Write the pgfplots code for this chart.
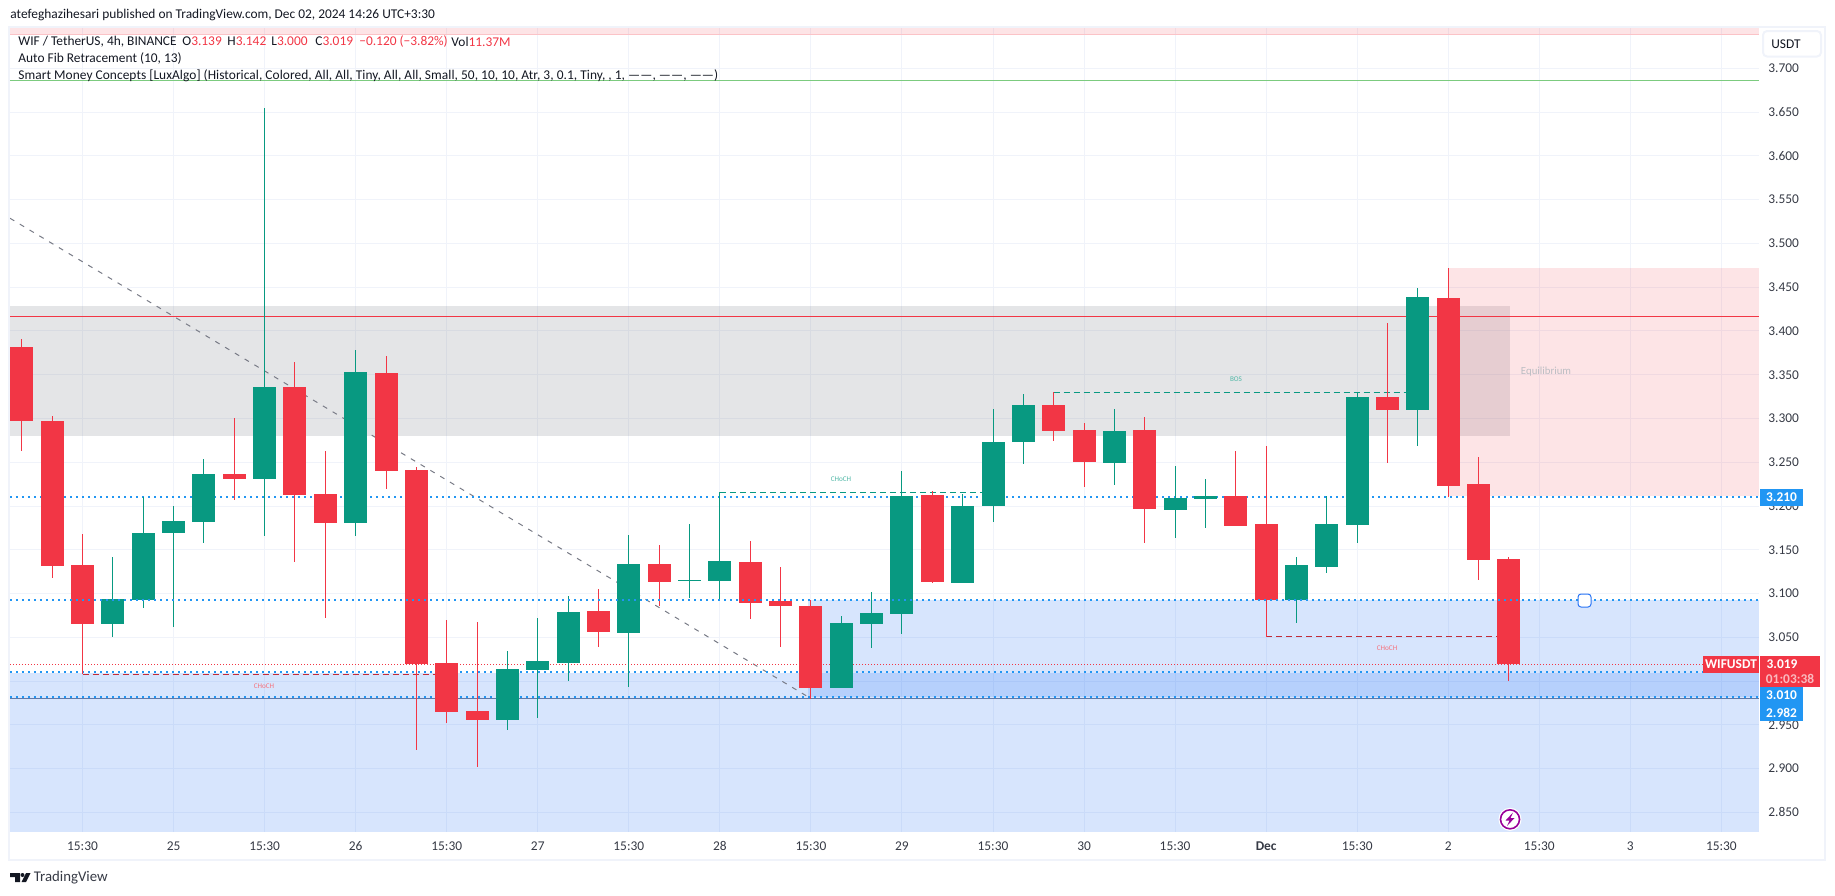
\documentclass[border=0pt]{standalone}
\usepackage{fontspec}
\setmainfont{Carlito}
\usepackage{pgfplots}
\usepackage{pgfplotstable}
\pgfplotsset{compat=1.18}

\definecolor{tvup}{HTML}{089981}
\definecolor{tvdown}{HTML}{F23645}
\definecolor{tvblue}{HTML}{2196F3}
\definecolor{tvzone}{HTML}{2A75F5}
\definecolor{tvgray}{HTML}{787B86}
\definecolor{tvgrid}{HTML}{F0F3FA}
\definecolor{tvtext}{HTML}{131722}
\definecolor{tvlabel}{HTML}{363A45}
\definecolor{tvlime}{HTML}{7CCB7F}

% 1 px of the reference = 0.5pt
\newcommand{\tv}{\fontsize{6.7}{8}\selectfont}

% candles: index, open, high, low, close
\pgfplotstableread{
i  o      h      l      c
3  3.0652 3.1417 3.0503 3.0934
4  3.0926 3.2107 3.0835 3.1692
5  3.1692 3.2000 3.0617 3.1829
6  3.1817 3.2537 3.1577 3.2366
8  3.2309 3.6547 3.1657 3.3359
11 3.1806 3.3782 3.1657 3.3531
16 2.9555 3.0343 2.9440 3.0138
17 3.0126 3.0720 2.9578 3.0229
18 3.0206 3.0972 3.0000 3.0789
20 3.0549 3.1669 2.9932 3.1337
22 3.1143 3.1794 3.0949 3.1155
23 3.1143 3.2156 3.0926 3.1372
27 2.9920 3.0743 2.9915 3.0663
28 3.0651 3.1017 3.0377 3.0777
29 3.0766 3.2400 3.0537 3.2114
31 3.1120 3.2137 3.1115 3.2000
32 3.2000 3.3108 3.1817 3.2731
33 3.2731 3.3279 3.2480 3.3154
36 3.2491 3.3108 3.2240 3.2857
38 3.1954 3.2457 3.1634 3.2091
39 3.2079 3.2308 3.1748 3.2114
42 3.0926 3.1417 3.0663 3.1326
43 3.1303 3.2114 3.1234 3.1794
44 3.1783 3.3298 3.1577 3.3245
46 3.3097 3.4491 3.2685 3.4388
}\upcandles
\pgfplotstableread{
i  o      h      l      c
0  3.3820 3.3910 3.2630 3.2970
1  3.2970 3.3030 3.1180 3.1314
2  3.1326 3.1680 3.0077 3.0652
7  3.2366 3.3005 3.2069 3.2309
9  3.3359 3.3645 3.1360 3.2126
10 3.2137 3.2628 3.0720 3.1806
12 3.3520 3.3713 3.2194 3.2400
13 3.2411 3.2446 2.9212 3.0195
14 3.0206 3.0697 2.9520 2.9646
15 2.9658 3.0675 2.9018 2.9555
19 3.0800 3.1052 3.0389 3.0560
21 3.1337 3.1554 3.0857 3.1132
24 3.1360 3.1600 3.0709 3.0892
25 3.0915 3.1303 3.0389 3.0857
26 3.0857 3.0926 2.9800 2.9920
30 3.2125 3.2167 3.1120 3.1131
34 3.3154 3.3298 3.2742 3.2857
35 3.2868 3.2948 3.2217 3.2502
37 3.2868 3.3017 3.1577 3.1965
40 3.2114 3.2628 3.1771 3.1771
41 3.1794 3.2685 3.0507 3.0926
45 3.3245 3.4091 3.2491 3.3097
47 3.4376 3.4719 3.2103 3.2228
48 3.2251 3.2560 3.1154 3.1383
49 3.1390 3.1420 3.0000 3.0190
}\downcandles

\pgfplotsset{
  wick/.style={draw=none, no markers, forget plot,
    error bars/.cd, y dir=both, y explicit, error mark=none,
    error bar style={draw=#1, line width=0.5pt}},
  body/.style={draw=none, no markers, forget plot,
    error bars/.cd, y dir=both, y explicit, error mark=none,
    error bar style={draw=#1, line width=11.5pt}},
  zone/.style={draw=none, fill=#1, forget plot},
  dots/.style={tvblue, line width=1pt, dash pattern=on 1pt off 2pt, forget plot},
}

\begin{document}
\begin{tikzpicture}
\path[use as bounding box] (0,0) rectangle (917.5pt,-447.5pt);
\begin{axis}[
    at={(5pt,-416pt)}, anchor=south west,
    scale only axis, width=874.5pt, height=402.5pt,
    xmin=-0.39, xmax=57.24,
    ymin=2.8275, ymax=3.7473,
    xtick={2,5,...,56},
    xticklabels={15:30,25,15:30,26,15:30,27,15:30,28,15:30,29,15:30,30,15:30,\textbf{Dec},15:30,2,15:30,3,15:30},
    ytick={2.85,2.9,...,3.71},
    yticklabel pos=right,
    y tick label style={/pgf/number format/fixed, /pgf/number format/fixed zerofill, /pgf/number format/precision=3, /pgf/number format/assume math mode=true,
      font=\tv, text=tvlabel, inner sep=0pt, anchor=west, xshift=4.5pt},
    x tick label style={font=\tv, text=tvlabel, inner sep=0pt, anchor=center, yshift=-7pt},
    major tick length=0pt,
    grid=major, major grid style={draw=tvgrid, line width=0.5pt},
    axis line style={draw=none},
]
% zones
\addplot[zone=tvdown, fill opacity=.135] coordinates {(-0.39,3.7387) (57.24,3.7387) (57.24,3.7473) (-0.39,3.7473)} -- cycle;
\addplot[tvdown!30, line width=0.5pt, forget plot] coordinates {(-0.39,3.7387) (57.24,3.7387)};
\addplot[zone=tvgray, fill opacity=.2] coordinates {(-0.39,3.2799) (49.02,3.2799) (49.02,3.4285) (-0.39,3.4285)} -- cycle;
\addplot[zone=tvdown, fill opacity=.135] coordinates {(47,3.2110) (57.24,3.2110) (57.24,3.4719) (47,3.4719)} -- cycle;
\addplot[zone=tvzone, fill opacity=.19] coordinates {(-0.39,2.8275) (57.24,2.8275) (57.24,3.0088) (-0.39,3.0088)} -- cycle;
\addplot[zone=tvzone, fill opacity=.19] coordinates {(25.9,2.9814) (57.24,2.9814) (57.24,3.0926) (25.9,3.0926)} -- cycle;
\addplot[tvgray!70!tvzone, line width=0.5pt, forget plot] coordinates {(-0.39,2.9802) (57.24,2.9802)};
% level lines
\addplot[tvlime, line width=0.5pt, forget plot] coordinates {(-0.39,3.6864) (57.24,3.6864)};
\addplot[tvdown, line width=0.5pt, forget plot] coordinates {(-0.39,3.4168) (57.24,3.4168)};
\addplot[tvgray, line width=0.5pt, dash pattern=on 2.5pt off 3.2pt, forget plot] coordinates {(-0.39,3.5288) (26,2.98)};
\addplot[dots] coordinates {(-0.39,3.210) (57.24,3.210)};
\addplot[dots] coordinates {(-0.39,3.0103) (57.24,3.0103)};
\addplot[dots] coordinates {(-0.39,2.9814) (57.24,2.9814)};
\addplot[tvdown, line width=0.5pt, dash pattern=on .5pt off 1pt, forget plot] coordinates {(-0.39,3.0191) (57.24,3.0191)};
% structure breaks
\addplot[tvdown!80!black, line width=0.5pt, dash pattern=on 3pt off 2pt, forget plot] coordinates {(2,3.0077) (14,3.0077)};
\addplot[tvup, line width=0.5pt, dash pattern=on 3pt off 2pt, forget plot] coordinates {(23,3.2156) (32,3.2156)};
\addplot[tvup, line width=0.5pt, dash pattern=on 3pt off 2pt, forget plot] coordinates {(34,3.3298) (46,3.3298)};
\addplot[tvdown!80!black, line width=0.5pt, dash pattern=on 3pt off 2pt, forget plot] coordinates {(41,3.0507) (49,3.0507)};
% candles
\addplot[wick=tvup] table[x=i, y expr={(\thisrow{h}+\thisrow{l})/2}, y error expr={(\thisrow{h}-\thisrow{l})/2}] {\upcandles};
\addplot[body=tvup] table[x=i, y expr={(\thisrow{o}+\thisrow{c})/2}, y error expr={abs(\thisrow{c}-\thisrow{o})/2}] {\upcandles};
\addplot[wick=tvdown] table[x=i, y expr={(\thisrow{h}+\thisrow{l})/2}, y error expr={(\thisrow{h}-\thisrow{l})/2}] {\downcandles};
\addplot[body=tvdown] table[x=i, y expr={(\thisrow{o}+\thisrow{c})/2}, y error expr={abs(\thisrow{c}-\thisrow{o})/2}] {\downcandles};
\addplot[dots] coordinates {(-0.39,3.0926) (57.24,3.0926)};
\end{axis}

% everything below is placed in reference pixels, origin top left
\begin{scope}[x=0.5pt,y=-0.5pt, every node/.style={font=\tv, inner sep=0pt, anchor=west}]
\draw[tvgrid, line width=1pt] (9,26.5) rectangle (1825,859.5);
\node[text=tvtext] at (10,15.3) {atefeghazihesari published on TradingView.com, Dec 02, 2024 14:26 UTC+3:30};
\node[text=tvtext] at (18,41.7) {WIF / TetherUS, 4h, BINANCE};
\node[text=tvtext] at (182,41.7) {O\textcolor{tvdown}{3.139}};
\node[text=tvtext] at (227,41.7) {H\textcolor{tvdown}{3.142}};
\node[text=tvtext] at (271,41.7) {L\textcolor{tvdown}{3.000}};
\node[text=tvtext] at (315,41.7) {C\textcolor{tvdown}{3.019}};
\node[text=tvdown] at (359,41.7) {−0.120 (−3.82\%)};
\node[text=tvtext] at (451,41.7) {Vol\textcolor{tvdown}{11.37M}};
\node[text=tvtext] at (18,59) {Auto Fib Retracement (10, 13)};
\node[text=tvtext] at (18,76) {\addfontfeature{LetterSpace=.4}Smart Money Concepts [LuxAlgo] (Historical, Colored, All, All, Tiny, All, All, Small, 50, 10, 10, Atr, 3, 0.1, Tiny, , 1, ------, ------, ------)};
% zone labels
\begin{scope}[every node/.append style={anchor=center}]
\node[font=\fontsize{3.6}{4}\selectfont, text=tvdown!70] at (264,685.7) {CHoCH};
\node[font=\fontsize{3.6}{4}\selectfont, text=tvup!70] at (841,479.3) {CHoCH};
\node[font=\fontsize{3.6}{4}\selectfont, text=tvup!70] at (1236,379.3) {BOS};
\node[font=\fontsize{3.6}{4}\selectfont, text=tvdown!70] at (1387,648.3) {CHoCH};
\node[font=\fontsize{5.4}{6}\selectfont, text=tvgray!50] at (1546,371.7) {Equilibrium};
% scale badge
\draw[tvgrid, fill=white, line width=1pt, rounded corners=2pt] (1763,31) rectangle (1821,56.5);
\node[text=tvtext] at (1786,44) {USDT};
% price labels
\fill[tvblue] (1760,489) rectangle (1803,506);
\node[text=white, font=\tv\bfseries] at (1781.5,497.5) {3.210};
\fill[tvdown] (1703,656) rectangle (1759,673);
\node[text=white, font=\tv\bfseries] at (1731,664.5) {WIFUSDT};
\fill[tvdown] (1760,656) rectangle (1820,687);
\node[text=white, font=\tv\bfseries] at (1782,664.5) {3.019};
\node[text=white!65!tvdown, font=\tv\bfseries] at (1790,678.5) {01:03:38};
\fill[tvblue] (1760,687) rectangle (1803,721);
\node[text=white, font=\tv\bfseries] at (1781.5,695.5) {3.010};
\node[text=white, font=\tv\bfseries] at (1781.5,712.5) {2.982};
\end{scope}
% handle on the line
\draw[tvzone, fill=white, line width=0.5pt, rounded corners=1.5pt] (1578,594) rectangle (1591,607);
% flash marker
\draw[white, line width=.5pt, fill=white] (1510,819.3) circle (11);
\draw[violet!80!magenta, line width=0.8pt, fill=white] (1510,819.3) circle (9.5);
\fill[violet!80!magenta] (1513,812.5) -- (1505.5,820.5) -- (1509.5,820.5) -- (1507,826) -- (1514.5,818) -- (1510.5,818) -- cycle;
% logo
\fill[tvtext] (10,873) -- (20,873) -- (20,882) -- (15,882) -- (15,877) -- (10,877) -- cycle;
\fill[tvtext] (22.5,875) circle (2);
\fill[tvtext] (26,873) -- (30.5,873) -- (26,882) -- (21.5,882) -- cycle;
\node[text=tvlabel, font=\fontsize{7.4}{9}\selectfont] at (33.5,877.5) {TradingView};
\end{scope}
\end{tikzpicture}
\end{document}
